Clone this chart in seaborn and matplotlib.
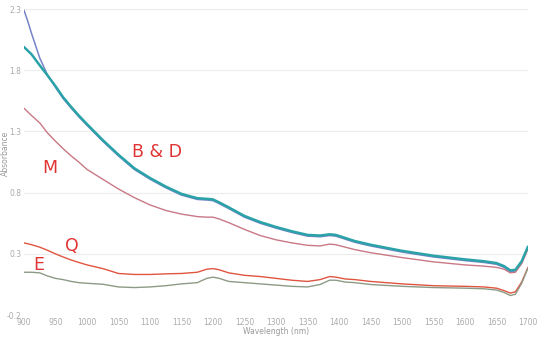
import matplotlib
matplotlib.use("Agg")
import matplotlib.pyplot as plt
import seaborn as sns
import pandas as pd

wavelength = [900, 906, 912, 925, 937, 950, 962, 975, 987, 1000, 1025, 1050, 1075, 1100, 1125,
              1150, 1175, 1190, 1200, 1210, 1225, 1250, 1275, 1300, 1325, 1350, 1370, 1385,
              1395, 1410, 1425, 1450, 1500, 1550, 1600, 1630, 1650, 1662, 1672, 1680, 1690, 1700]

bd_teal = [1.99, 1.96, 1.93, 1.84, 1.76, 1.67, 1.58, 1.50, 1.43, 1.36, 1.23, 1.11, 1.00, 0.92, 0.85,
           0.79, 0.755, 0.75, 0.745, 0.72, 0.68, 0.61, 0.56, 0.52, 0.485, 0.455, 0.45, 0.46,
           0.455, 0.43, 0.405, 0.375, 0.325, 0.285, 0.255, 0.24, 0.225, 0.20, 0.165, 0.17, 0.24, 0.36]
bd_blue = [2.29, 2.20, 2.10, 1.90, 1.765, 1.66, 1.57, 1.49, 1.42, 1.35, 1.22, 1.10, 0.99, 0.91, 0.84,
           0.78, 0.745, 0.74, 0.735, 0.71, 0.67, 0.60, 0.55, 0.51, 0.475, 0.445, 0.44, 0.45,
           0.445, 0.42, 0.395, 0.365, 0.315, 0.275, 0.245, 0.23, 0.215, 0.19, 0.155, 0.16, 0.23, 0.35]
m_vals = [1.49, 1.46, 1.43, 1.37, 1.29, 1.22, 1.16, 1.10, 1.05, 0.99, 0.91, 0.83, 0.76, 0.70, 0.655,
          0.625, 0.605, 0.60, 0.60, 0.585, 0.555, 0.50, 0.45, 0.415, 0.39, 0.37, 0.365, 0.38,
          0.375, 0.355, 0.335, 0.31, 0.27, 0.235, 0.21, 0.20, 0.19, 0.175, 0.145, 0.15, 0.22, 0.34]
q_vals = [0.39, 0.383, 0.375, 0.355, 0.33, 0.30, 0.275, 0.25, 0.23, 0.21, 0.18, 0.14, 0.132, 0.132, 0.137,
          0.14, 0.15, 0.175, 0.18, 0.17, 0.145, 0.125, 0.115, 0.10, 0.085, 0.075, 0.09, 0.115,
          0.11, 0.095, 0.09, 0.075, 0.055, 0.04, 0.035, 0.03, 0.02, 0.0, -0.02, -0.01, 0.07, 0.19]
e_vals = [0.15, 0.15, 0.15, 0.145, 0.12, 0.10, 0.09, 0.075, 0.065, 0.06, 0.052, 0.03, 0.025, 0.03, 0.04,
          0.055, 0.065, 0.10, 0.11, 0.10, 0.075, 0.065, 0.055, 0.045, 0.035, 0.03, 0.05, 0.085,
          0.085, 0.07, 0.065, 0.05, 0.035, 0.025, 0.02, 0.015, 0.005, -0.015, -0.04, -0.03, 0.06, 0.185]

y_ticks = [-0.2, 0.3, 0.8, 1.3, 1.8, 2.3]
x_ticks = list(range(900, 1701, 50))

labels = ["B & D", "M", "Q", "E"]
label_pos = [(1071, 1.09), (929, 0.96), (965, 0.32), (914, 0.17)]

sns.set_style("white")
fig = plt.figure(figsize=(5.46, 3.37), dpi=100)
ax = fig.add_axes([0.044, 0.065, 0.923, 0.908])

series = [
    (bd_blue, "#7584c8", 1.1),
    (m_vals, "#c97886", 1.0),
    (q_vals, "#e0553f", 1.0),
    (e_vals, "#8d9a86", 1.0),
    (bd_teal, "#2aa3a8", 1.8),
]
for vals, col, lw in series:
    df = pd.DataFrame({"w": wavelength, "v": vals})
    sns.lineplot(data=df, x="w", y="v", ax=ax, color=col, linewidth=lw)

for txt, (xw, yv) in zip(labels, label_pos):
    ax.text(xw, yv, txt, color="#e03434", fontsize=12.5, ha="left", va="baseline")

ax.set_xlim(900, 1700)
ax.set_ylim(-0.2, 2.3)
ax.set_xticks(x_ticks)
ax.set_yticks(y_ticks)
ax.set_yticklabels([f"{t:.1f}" for t in y_ticks])
ax.tick_params(axis="both", labelsize=5.5, colors="#aaaaaa", length=0, pad=2)
ax.grid(axis="y", color="#ececec", linewidth=0.8)
for s in ax.spines.values():
    s.set_visible(False)
ax.set_xlabel("Wavelength (nm)", fontsize=5.5, color="#999999", labelpad=0)
ax.set_ylabel("Absorbance", fontsize=5.5, color="#999999")
ax.yaxis.set_label_coords(-0.028, 0.53)

fig.savefig("out.png", dpi=100)
